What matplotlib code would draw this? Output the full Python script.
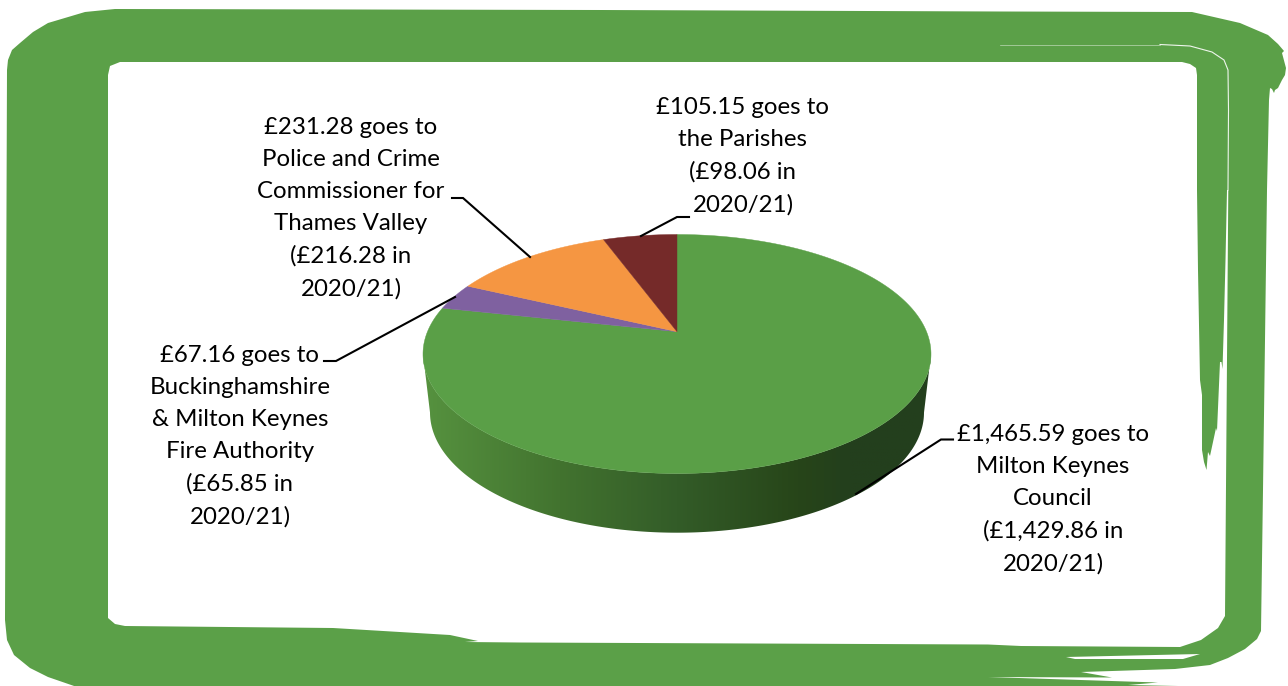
import numpy as np
import matplotlib
matplotlib.use("Agg")
import matplotlib.pyplot as plt
from matplotlib.patches import Polygon
from matplotlib.colors import LinearSegmentedColormap

# ---- data -------------------------------------------------------------
authorities = ["Milton Keynes Council", "Buckinghamshire & Milton Keynes Fire Authority",
               "Police and Crime Commissioner for Thames Valley", "the Parishes"]
amounts_2021_22 = [1465.59, 67.16, 231.28, 105.15]
slice_colours = ["#5A9F47", "#7F61A0", "#F59642", "#752A29"]
labels = [
    "£1,465.59 goes to\nMilton Keynes\nCouncil\n(£1,429.86 in\n2020/21)",
    "£67.16 goes to\nBuckinghamshire\n& Milton Keynes\nFire Authority\n(£65.85 in\n2020/21)",
    "£231.28 goes to\nPolice and Crime\nCommissioner for\nThames Valley\n(£216.28 in\n2020/21)",
    "£105.15 goes to\nthe Parishes\n(£98.06 in\n2020/21)",
]
label_xy = [(1053, 499.5), (240, 436), (351, 208), (743, 156.5)]
leaders = [
    [(856, 494), (941, 439.5), (953, 439.5)],
    [(455, 297), (336, 361), (324, 361)],
    [(530, 257), (463, 198), (452, 198)],
    [(641, 236), (677, 217), (689, 217)],
]

# ---- decorative brush frame --------------------------------------------
GREEN = "#5BA048"
frame_outer = [(7, 70), (8, 60), (12, 50), (20, 43), (33, 32), (48, 23), (85, 12), (115, 9),
               (600, 10), (1000, 11.5), (1192, 12), (1240, 23), (1268, 35), (1278, 44), (1284, 51),
               (1282, 53), (1286, 68), (1285, 75), (1282, 80), (1278, 88), (1275, 90), (1274, 93),
               (1272, 89), (1270, 88), (1269, 100), (1267, 190), (1263, 490), (1261, 631), (1257, 639),
               (1245, 649), (1228, 658), (1210, 665), (1175, 669), (1081, 672), (1112, 677.5),
               (988, 677), (1158, 682.5), (1128, 685), (1178, 686), (1178, 687), (77, 687), (48, 677),
               (30, 668), (14, 655), (7, 640), (5, 620)]
frame_inner = [(108, 75), (110, 66), (120, 62), (1182, 62), (1190, 64), (1196, 68), (1197, 75),
               (1197, 190), (1198, 270), (1200, 380), (1202, 395), (1202, 450), (1204, 462),
               (1206.5, 470), (1208, 452), (1210, 456), (1216, 428), (1217, 431), (1220, 362),
               (1221.5, 362), (1222.5, 369), (1224, 320), (1225.5, 260), (1227, 190), (1228.3, 190),
               (1227, 360), (1226, 486), (1225, 616), (1218, 628), (1201, 640), (1180, 647),
               (1021, 646), (988, 644.5), (520, 642.5), (465, 642), (478, 641), (450, 635),
               (333, 628), (125, 626), (115, 624), (108, 618)]
frame_slit = [(1066, 657), (1200, 654), (1183, 659), (1075, 659)]
frame_hairline_faint = [(1000, 44.5), (1160, 44.5)]
frame_hairline = [(1160, 44.5), (1190, 46), (1212, 52), (1224, 60), (1228, 70),
                  (1228.5, 110), (1228, 190)]

# ---- pie geometry (perspective projection of a circle) -----------------
CX, APEX_Y, TOP_Y, BOTTOM_Y, HALF_W = 677, 331.7, 234.5, 473.5, 254
c = (2 * APEX_Y - (TOP_Y + BOTTOM_Y)) / (BOTTOM_Y - TOP_Y)
a = BOTTOM_Y * (1 + c) - APEX_Y
k = HALF_W * np.sqrt(1 - c * c)


def project(theta):
    """theta: radians clockwise from 12 o'clock on the unit circle."""
    X, Y = np.sin(theta), -np.cos(theta)
    d = 1 + c * Y
    return CX + k * X / d, (a * Y + APEX_Y) / d


fig = plt.figure(figsize=(12.88, 6.86), dpi=100)
ax = fig.add_axes([0, 0, 1, 1])
ax.set_xlim(0, 1288)
ax.set_ylim(686, 0)
ax.axis("off")

ax.add_patch(Polygon(frame_outer, closed=True, fc=GREEN, ec="none", zorder=1))
ax.add_patch(Polygon(frame_inner, closed=True, fc="white", ec="none", zorder=2))
ax.add_patch(Polygon(frame_slit, closed=True, fc="white", ec="none", zorder=2))
ax.plot(*zip(*frame_hairline_faint), color="white", lw=0.5, alpha=0.6, zorder=2)
ax.plot(*zip(*frame_hairline), color="white", lw=0.8, alpha=0.9, zorder=2)

# side wall
MID_Y = (TOP_Y + BOTTOM_Y) / 2
t = np.linspace(0, np.pi, 200)
top_arc_x = CX + HALF_W * np.cos(t)
top_arc_y = MID_Y + (BOTTOM_Y - MID_Y) * np.sin(t)
LOW_CY, LOW_RX, LOW_RY = 412.5, 247, 120.2
low_arc_x = CX + LOW_RX * np.cos(t[::-1])
low_arc_y = LOW_CY + LOW_RY * np.sin(t[::-1])
side = Polygon(np.r_[np.c_[top_arc_x, top_arc_y], np.c_[low_arc_x, low_arc_y]], closed=True,
               fc="none", ec="none", zorder=3)
ax.add_patch(side)
cmap = LinearSegmentedColormap.from_list(
    "wall", [(0, "#56923F"), (0.27, "#42732F"), (0.5, "#335C28"), (0.74, "#274519"), (0.84, "#233F1D"), (1, "#233F1D")])
img = ax.imshow(np.linspace(0, 1, 512)[None, :], cmap=cmap, extent=(423, 931, 540, 350),
                aspect="auto", zorder=3, interpolation="bilinear")
img.set_clip_path(side)
ax.set_xlim(0, 1288)
ax.set_ylim(686, 0)

# slices, clockwise from the top: largest first, the rest read on
fractions = np.array(amounts_2021_22) / np.sum(amounts_2021_22)
edges = np.r_[0, np.cumsum(fractions)] * 2 * np.pi
for start, stop, colour in zip(edges[:-1], edges[1:], slice_colours):
    th = np.linspace(start, stop, max(int((stop - start) * 80), 8))
    xs, ys = project(th)
    pts = np.r_[[[CX, APEX_Y]], np.c_[xs, ys]]
    ax.add_patch(Polygon(pts, closed=True, fc=colour, ec=colour, lw=0.3, zorder=4))

# leaders and labels
for path in leaders:
    ax.plot(*zip(*path), color="black", lw=1.5, solid_joinstyle="miter", zorder=5)
for text, (x, y) in zip(labels, label_xy):
    ax.text(x, y, text, ha="center", va="center", fontsize=17.3, family=["Lato", "DejaVu Sans"],
            color="black", linespacing=1.65, zorder=6)

fig.savefig("out.png", dpi=100)
